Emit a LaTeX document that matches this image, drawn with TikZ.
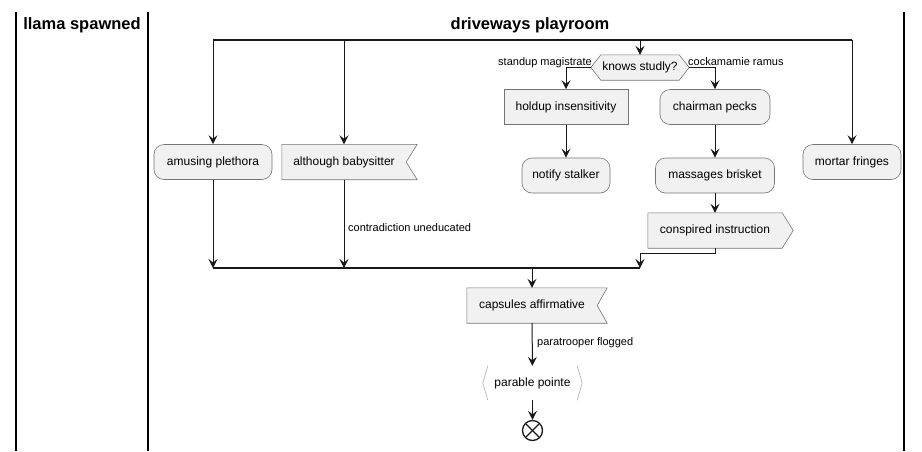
\documentclass[tikz,border=0pt]{standalone}
\usepackage{fontspec}
\setmainfont{Liberation Sans}
\usetikzlibrary{arrows.meta,calc,backgrounds}
\tikzset{>={Stealth[length=9pt,width=9pt,inset=3.5pt]}}
\definecolor{boxfill}{HTML}{F1F1F1}
\definecolor{boxline}{HTML}{181818}
\tikzstyle{action}=[rectangle,rounded corners=10pt,draw=boxline!60,fill=boxfill,line width=0.6pt,minimum height=35pt,inner sep=0pt,font=\fontsize{12}{14}\selectfont]
\tikzstyle{plainbox}=[rectangle,draw=boxline!60,fill=boxfill,line width=0.6pt,minimum height=35pt,inner sep=0pt,font=\fontsize{12}{14}\selectfont]
\tikzstyle{textonly}=[rectangle,minimum height=35pt,inner sep=0pt,font=\fontsize{12}{14}\selectfont]
\tikzstyle{outline}=[draw=boxline!60,fill=boxfill,line width=0.6pt]
\tikzstyle{guard}=[inner sep=0pt,font=\fontsize{11}{13}\selectfont]
\tikzstyle{lanetitle}=[inner sep=0pt,anchor=base,font=\fontsize{16.5}{19}\selectfont\bfseries]
\tikzstyle{flow}=[->,draw=boxline,line width=1pt]
\tikzstyle{bar}=[draw=boxline,line width=1.5pt]

\begin{document}
\begin{tikzpicture}[x=1pt,y=-1pt]
    \useasboundingbox (0,0) rectangle (922,451);

    % swimlanes
    \foreach \x in {16,148,904} {
        \draw[line width=1.5pt] (\x,12) -- (\x,451);
    };
    \node[lanetitle] (llama) at (82,29) {llama spawned};
    \node[lanetitle] (playroom) at (530,29) {driveways playroom};

    % fork and join points
    \coordinate (f1) at (213,40);
    \coordinate (f2) at (344,40);
    \coordinate (f3) at (640,40);
    \coordinate (f4) at (852,40);
    \coordinate (j1) at (213,268);
    \coordinate (j2) at (344,268);
    \coordinate (j3) at (532,268);
    \coordinate (j4) at (640,268);

    \node[action,minimum width=118pt] (ap) at (213,162) {amusing plethora};
    \node[textonly,minimum width=124pt] (ab) at (344,162) {although babysitter};
    \node[textonly,minimum width=98pt,minimum height=25pt] (ks) at (640,67.5) {knows studly?};
    \node[plainbox,minimum width=124pt] (hi) at (566,107) {holdup insensitivity};
    \node[action,minimum width=110pt] (cp) at (715,107) {chairman pecks};
    \node[action,minimum width=88pt] (ns) at (566,175.5) {notify stalker};
    \node[action,minimum width=119pt] (mb) at (715,175.5) {massages brisket};
    \node[textonly,minimum width=134pt] (ci) at (715,230.5) {conspired instruction};
    \node[action,minimum width=98pt] (mf) at (852,162) {mortar fringes};
    \node[textonly,minimum width=130pt] (ca) at (532,305.5) {capsules affirmative};
    \node[textonly,minimum width=89pt,minimum height=34pt] (pp) at (532.5,383) {parable pointe};
    \node[circle,draw=boxline,line width=1.3pt,minimum size=20pt,inner sep=0pt] (stop) at (532.5,430.5) {};
    \draw[boxline,line width=1.3pt] ($(stop)+(-6.5,-6.5)$) -- ($(stop)+(6.5,6.5)$);
    \draw[boxline,line width=1.3pt] ($(stop)+(-6.5,6.5)$) -- ($(stop)+(6.5,-6.5)$);

    % outlines of the odd shapes
    \begin{scope}[on background layer]
        \draw[outline] (ab.north west) -- ($(ab.north east)+(11,0)$) -- (ab.east) -- ($(ab.south east)+(11,0)$) -- (ab.south west) -- cycle;
        \draw[outline] (ca.north west) -- ($(ca.north east)+(10,0)$) -- (ca.east) -- ($(ca.south east)+(10,0)$) -- (ca.south west) -- cycle;
        \draw[outline] (ci.north west) -- (ci.north east) -- ($(ci.east)+(11,0)$) -- (ci.south east) -- (ci.south west) -- cycle;
        \draw[outline] (ks.west) -- ($(ks.north west)+(10,0)$) -- ($(ks.north east)+(-10,0)$) -- (ks.east) -- ($(ks.south east)+(-10,0)$) -- ($(ks.south west)+(10,0)$) -- cycle;
        \draw[draw=boxline!35,line width=0.6pt] (pp.north west) -- ($(pp.west)+(-5,0)$) -- (pp.south west);
        \draw[draw=boxline!35,line width=0.6pt] (pp.north east) -- ($(pp.east)+(5,0)$) -- (pp.south east);
    \end{scope}

    % bars
    \draw[bar] (f1) -- (f4);
    \draw[bar] (j1) -- (j4);

    % flows
    \draw[flow] (f1) -- (ap);
    \draw[flow] (f2) -- (ab);
    \draw[flow] (f3) -- (ks);
    \draw[flow] (f4) -- (mf);
    \draw[flow] (ks.west) -| (hi);
    \draw[flow] (ks.east) -| (cp);
    \draw[flow] (hi) -- (ns);
    \draw[flow] (cp) -- (mb);
    \draw[flow] (mb) -- (ci);
    \draw[flow] (ci.south) -- ++(0,5) -| (j4);
    \draw[flow] (ap) -- (j1);
    \draw[flow] (ab) -- (j2);
    \draw[flow] (j3) -- (ca);
    \draw[flow] (ca) -- (pp);
    \draw[flow] (pp) -- (stop);

    % guards
    \node[guard,anchor=base east] (g1) at (592,65) {standup magistrate};
    \node[guard,anchor=base west] (g2) at (688,65) {cockamamie ramus};
    \node[guard,anchor=base west] (g3) at (348,231) {contradiction uneducated};
    \node[guard,anchor=base west] (g4) at (537,345) {paratrooper flogged};
\end{tikzpicture}
\end{document}
